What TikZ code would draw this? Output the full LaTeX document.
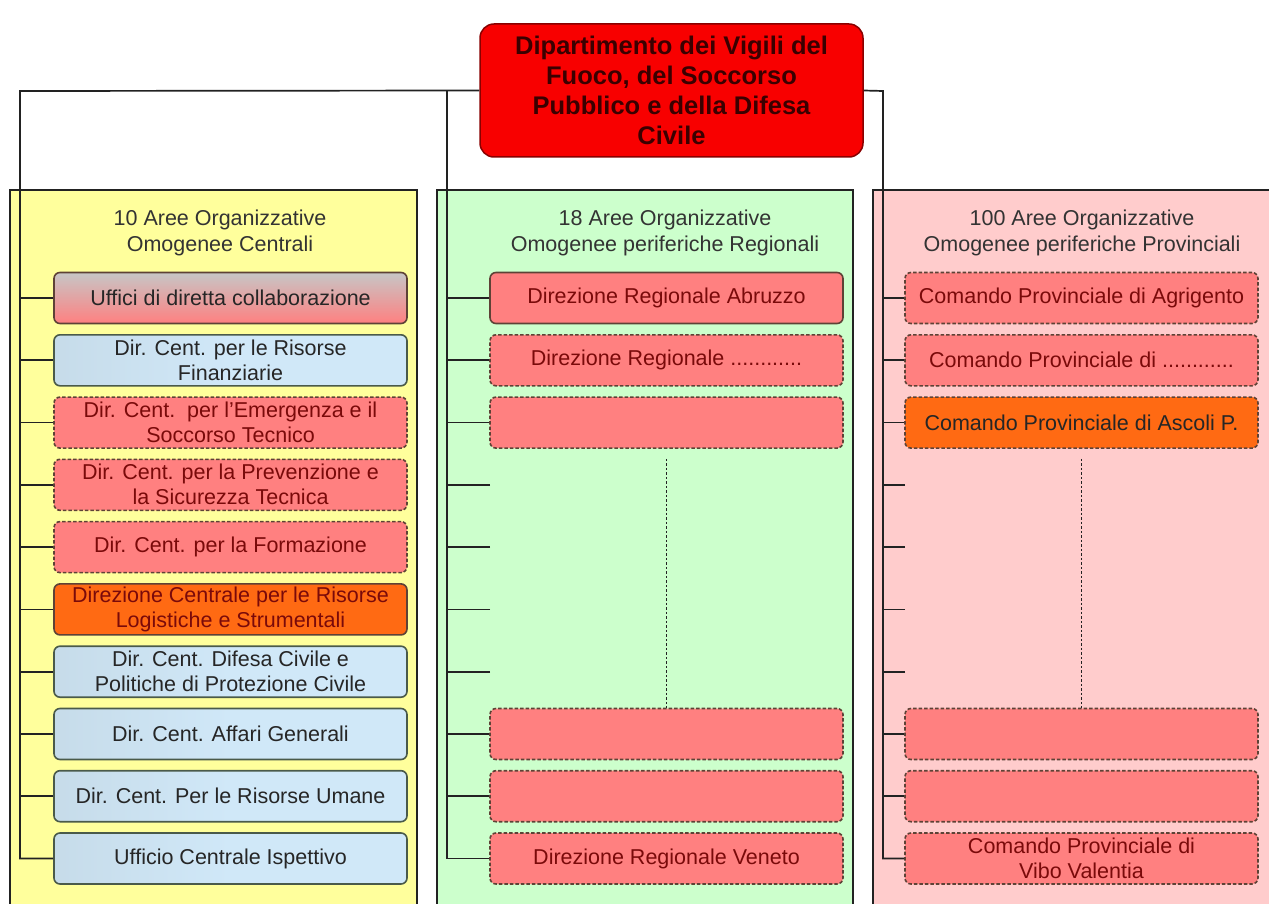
\documentclass[tikz,border=0pt]{standalone}
\usepackage{fontspec}
\setmainfont{Liberation Sans}
\definecolor{titlered}{HTML}{F80000}
\definecolor{titleborder}{HTML}{8A0000}
\definecolor{titletext}{HTML}{3A0000}
\definecolor{colyellow}{HTML}{FFFF9C}
\definecolor{colgreen}{HTML}{CCFFCC}
\definecolor{colpink}{HTML}{FFCCCC}
\definecolor{itempink}{HTML}{FF8080}
\definecolor{itemorange}{HTML}{FF6A13}
\definecolor{itemblue}{HTML}{D0E8F8}
\definecolor{itemgray}{HTML}{C6C6C6}
\definecolor{dashbrown}{HTML}{5E4236}
\definecolor{bluebord}{HTML}{4A5A4A}
\definecolor{darkred}{HTML}{7A0A0A}
\definecolor{linecol}{HTML}{222222}
\begin{document}
\begin{tikzpicture}[x=1pt,y=-1pt,
  conn/.style={draw=linecol, line width=1.7pt},
  colbox/.style={draw=linecol, line width=1.5pt},
  coltitle/.style={align=center, text=black!80, font=\fontsize{21.5}{26}\selectfont, inner sep=0pt},
  item/.style={rectangle, rounded corners=6pt, minimum width=353pt, minimum height=51pt,
    inner sep=0pt, align=center, line width=1.6pt, font=\fontsize{21.5}{25}\selectfont},
  pinkd/.style={item, fill=itempink, draw=dashbrown, dash pattern=on 3.5pt off 2pt, text=darkred},
  pinks/.style={item, fill=itempink, draw=dashbrown, text=darkred},
  blueitem/.style={item, left color=itemblue!88!gray, right color=itemblue, middle color=itemblue, draw=bluebord, text=black!85},
  orangeitem/.style={item, fill=itemorange, draw=dashbrown, text=darkred},
  orangedash/.style={item, fill=itemorange, draw=dashbrown, dash pattern=on 3.5pt off 2pt, text=black!85},
  grayitem/.style={item, top color=itemgray, bottom color=itempink, draw=dashbrown, text=black!85},
  dotline/.style={draw=linecol, line width=1.6pt, dash pattern=on 2.5pt off 2pt},
  titlebox/.style={rectangle, rounded corners=14pt, minimum width=383pt, minimum height=133pt,
    fill=titlered, draw=titleborder, line width=1.5pt, align=center, inner sep=0pt,
    text=titletext, font=\fontsize{25.5}{30}\selectfont\bfseries}
]
\useasboundingbox (0,0) rectangle (1269,904);
\fill[white] (0,0) rectangle (1269,904);
\clip (0,0) rectangle (1269,904);

% column boxes
\path[colbox, fill=colyellow] (10,190) rectangle (417,930);
\path[colbox, fill=colgreen] (437,190) rectangle (853,930);
\path[colbox, fill=colpink] (873,190) rectangle (1300,930);

% column titles
\node[coltitle] (TL) at (220,233) {10 Aree Organizzative\\Omogenee Centrali};
\node[coltitle] (TM) at (665,233) {18 Aree Organizzative\\Omogenee periferiche Regionali};
\node[coltitle] (TR) at (1082,233) {100 Aree Organizzative\\Omogenee periferiche Provinciali};

% title
\node[titlebox] (top) at (671.5,90.5) {Dipartimento dei Vigili del\\Fuoco, del Soccorso\\Pubblico e della Difesa\\Civile};

% left items
\node[grayitem]   (L1)  at (230.5,298)   {Uffici di diretta collaborazione};
\node[blueitem]   (L2)  at (230.5,360.3) {Dir. Cent. per le Risorse\\Finanziarie};
\node[pinkd]      (L3)  at (230.5,422.6) {Dir. Cent.\ \ per l'Emergenza e il\\Soccorso Tecnico};
\node[pinkd]      (L4)  at (230.5,484.8) {Dir. Cent. per la Prevenzione e\\la Sicurezza Tecnica};
\node[pinkd]      (L5)  at (230.5,547.1) {Dir. Cent. per la Formazione};
\node[orangeitem] (L6)  at (230.5,609.4) {Direzione Centrale per le Risorse\\Logistiche e Strumentali};
\node[blueitem]   (L7)  at (230.5,671.7) {Dir. Cent. Difesa Civile e\\Politiche di Protezione Civile};
\node[blueitem]   (L8)  at (230.5,734)   {Dir. Cent. Affari Generali};
\node[blueitem]   (L9)  at (230.5,796.2) {Dir. Cent. Per le Risorse Umane};
\node[blueitem]   (L10) at (230.5,858.5) {Ufficio Centrale Ispettivo};

% middle items
\node[pinks] (M1)  at (666.5,298)   {Direzione Regionale Abruzzo};
\node[pinkd] (M2)  at (666.5,360.3) {Direzione Regionale ............};
\node[pinkd] (M3)  at (666.5,422.6) {};
\node[pinkd] (M8)  at (666.5,734)   {};
\node[pinkd] (M9)  at (666.5,796.2) {};
\node[pinkd] (M10) at (666.5,858.5) {Direzione Regionale Veneto};
\coordinate (M4) at (490,484.8);
\coordinate (M5) at (490,547.1);
\coordinate (M6) at (490,609.4);
\coordinate (M7) at (490,671.7);

% right items
\node[pinkd]      (R1)  at (1081.5,298)   {Comando Provinciale di Agrigento};
\node[pinkd]      (R2)  at (1081.5,360.3) {Comando Provinciale di ............};
\node[orangedash] (R3)  at (1081.5,422.6) {Comando Provinciale di Ascoli P.};
\node[pinkd]      (R8)  at (1081.5,734)   {};
\node[pinkd]      (R9)  at (1081.5,796.2) {};
\node[pinkd]      (R10) at (1081.5,858.5) {Comando Provinciale di\\Vibo Valentia};
\coordinate (R4) at (905,484.8);
\coordinate (R5) at (905,547.1);
\coordinate (R6) at (905,609.4);
\coordinate (R7) at (905,671.7);

% spines
\coordinate (sL) at (20,91);
\coordinate (sM) at (447,91);
\coordinate (sR) at (883,91);
\draw[conn] (top.west) -- (sL) |- (L10.west);
\draw[conn] (sM) |- (M10.west);
\draw[conn] (top.east) -- (sR) |- (R10.west);

\foreach \i in {1,...,9} \draw[conn] (L\i.west) -- (L\i.west -| sL);
\foreach \n in {M1,M2,M3,M8,M9} \draw[conn] (\n.west) -- (\n.west -| sM);
\foreach \n in {M4,M5,M6,M7} \draw[conn] (\n) -- (\n -| sM);
\foreach \n in {R1,R2,R3,R8,R9} \draw[conn] (\n.west) -- (\n.west -| sR);
\foreach \n in {R4,R5,R6,R7} \draw[conn] (\n) -- (\n -| sR);

% dotted continuation
\draw[dotline] ([yshift=-10pt]M3.south) -- (M8.north);
\draw[dotline] ([yshift=-10pt]R3.south) -- (R8.north);
\end{tikzpicture}
\end{document}
